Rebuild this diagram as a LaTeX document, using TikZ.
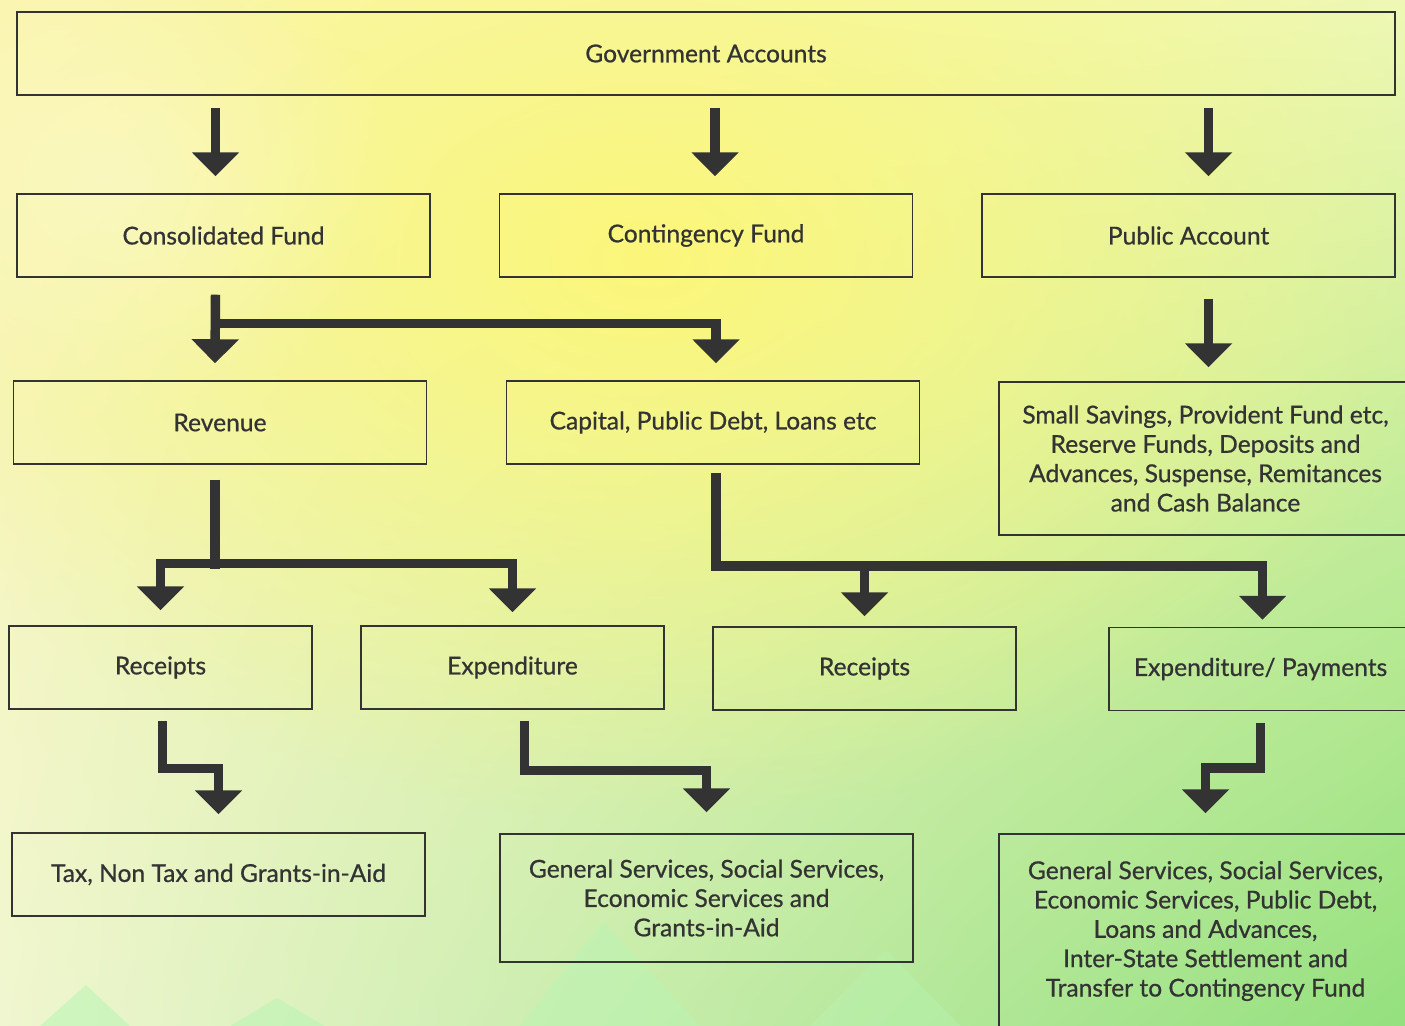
\documentclass[tikz,border=0pt]{standalone}
\usepackage{fontspec}
\setmainfont{Lato}
\newfontfamily\boxfont{Lato}[FakeBold=0.7]
\usetikzlibrary{arrows.meta,calc,fadings,shadings,positioning}
\definecolor{ink}{HTML}{333333}
\definecolor{bgUL}{HTML}{FBF5B4}
\definecolor{bgUR}{HTML}{EEF8B4}
\definecolor{bgLL}{HTML}{F0F6D0}
\definecolor{bgLR}{HTML}{94E07E}
\definecolor{sun}{HTML}{FCF77A}
\definecolor{hill}{HTML}{B8F5B4}
\tikzfading[name=glow, inner color=transparent!0, outer color=transparent!100]

\begin{document}
\begin{tikzpicture}[x=0.02cm,y=-0.02cm,
    box/.style={draw=ink, line width=0.85pt, minimum height=1.66cm, text=ink, align=center,
      font=\boxfont\fontsize{14}{16.7}\selectfont},
    wide/.style={box, minimum width=8.26cm},
    narrow/.style={box, minimum width=6.06cm},
    fat/.style={draw=ink, line width=5.4pt, -{Triangle[width=0.92cm,length=0.48cm]}}]
\useasboundingbox (0,0) rectangle (1405,1026);
\begin{scope}
\clip (0,0) rectangle (1405,1026);
\shade[upper left=bgUL, upper right=bgUR, lower left=bgLL, lower right=bgLR] (0,0) rectangle (1405,1026);
\fill[sun, path fading=glow] (650,260) ellipse (820 and 560);
\fill[white, opacity=0.3, path fading=glow] (120,180) ellipse (280 and 240);
\fill[hill, opacity=0.55] (40,1026) -- (86,985) -- (130,1026) -- cycle;
\fill[hill, opacity=0.55] (230,1026) -- (277,998) -- (325,1026) -- cycle;
\fill[hill, opacity=0.45] (520,1026) -- (603,922) -- (700,1026) -- cycle;
\fill[hill, opacity=0.4] (810,1026) -- (886,950) -- (960,1026) -- cycle;
\end{scope}

\node[box, minimum width=27.56cm] (gov) at (706,53.5) {Government Accounts};
\node[wide] (cons) at (223.5,235.5) {Consolidated Fund};
\node[wide] (cont) at (706,235.5) {Contingency Fund};
\node[wide] (pub) at (1188.5,235.5) {Public Account};
\node[wide] (rev) at (220,422.5) {Revenue};
\node[wide] (cap) at (713,422.5) {Capital, Public Debt, Loans etc};
\node[wide, minimum height=3.06cm] (small) at (1205.5,458.5) {Small Savings, Provident Fund etc,\\Reserve Funds, Deposits and\\Advances, Suspense, Remitances\\and Cash Balance};
\node[narrow] (rec1) at (160.5,667.5) {Receipts};
\node[narrow] (exp1) at (512.5,667.5) {Expenditure};
\node[narrow] (rec2) at (864.5,668.5) {Receipts};
\node[narrow] (pay) at (1260.5,669) {Expenditure/ Payments};
\node[wide] (tax) at (218.5,874.5) {Tax, Non Tax and Grants-in-Aid};
\node[wide, minimum height=2.56cm] (gen1) at (706.5,898) {General Services, Social Services,\\Economic Services and\\Grants-in-Aid};
\node[wide, minimum height=3.88cm] (gen2) at (1205.5,931) {General Services, Social Services,\\Economic Services, Public Debt,\\Loans and Advances,\\Inter-State Settlement and\\Transfer to Contingency Fund};

\draw[fat] ($(gov.south -| cons.north)+(-8,12)$) -- ($(cons.north)+(-8,-17)$);
\draw[fat] ($(gov.south -| cont.north)+(9,12)$) -- ($(cont.north)+(9,-17)$);
\draw[fat] ($(gov.south -| pub.north)+(20,12)$) -- ($(pub.north)+(20,-17)$);
\draw[fat] ($(cons.south)+(-8,17)$) -- ($(rev.north)+(-5,-17)$);
\draw[fat] ($(cons.south)+(-8,46)$) -| ($(cap.north)+(3,-17)$);
\draw[fat] ($(pub.south)+(20,21)$) -- ($(small.north)+(3,-14)$);
\draw[draw=ink, line width=5.4pt] ($(rev.south)+(-5,15)$) -- ($(rev.south)+(-5,104)$);
\draw[fat, {Triangle[width=0.92cm,length=0.48cm]}-{Triangle[width=0.92cm,length=0.48cm]}] ($(rec1.north)+(0,-15)$) |- ($(rev.south)+(-5,99)$) -| ($(exp1.north)+(0,-13)$);
\draw[fat] ($(cap.south)+(3,8)$) |- ($(pay.north)+(2,-61)$) -- ($(pay.north)+(2,-7)$);
\draw[fat] ($(rec2.north)+(0,-61)$) -- ($(rec2.north)+(0,-10)$);
\draw[fat] ($(rec1.south)+(2,11)$) -- ++(0,48) -| ($(tax.north)+(0,-18)$);
\draw[fat] ($(exp1.south)+(12,11)$) -- ++(0,50) -| ($(gen1.north)+(0,-21)$);
\draw[fat] ($(pay.south)+(0,12)$) -- ++(0,45) -| ($(gen2.north)+(0,-20)$);
\end{tikzpicture}
\end{document}
